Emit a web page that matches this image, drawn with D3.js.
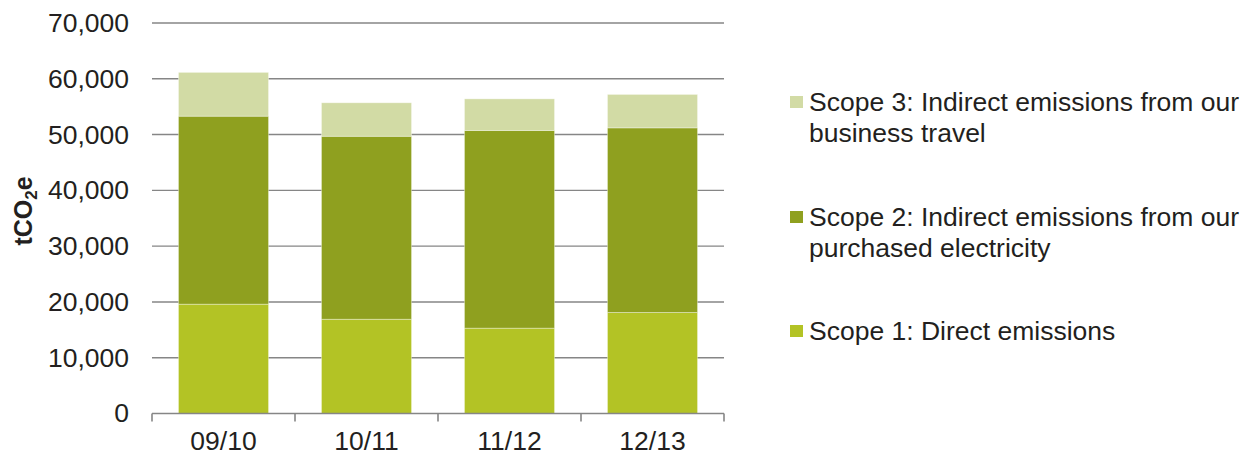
<!DOCTYPE html>
<html>
<head>
<meta charset="utf-8">
<script src="https://cdn.jsdelivr.net/npm/d3@7"></script>
<style>
  body { margin: 0; background: #fff; }
  text { font-family: "Liberation Sans", Arial, sans-serif; fill: #231f20; }
</style>
</head>
<body>
<svg id="canvas"></svg>
<script>
let years = ["09/10", "10/11", "11/12", "12/13"];
let scope1 = [19600, 16900, 15300, 18100];
let scope2 = [33700, 32800, 35450, 33100];
let scope3 = [7850, 6000, 5650, 6000];
let yTicks = [0, 10000, 20000, 30000, 40000, 50000, 60000, 70000];
let seriesKeys = ["scope1", "scope2", "scope3"];
let legendLines = {
  scope3: ["Scope 3: Indirect emissions from our", "business travel"],
  scope2: ["Scope 2: Indirect emissions from our", "purchased electricity"],
  scope1: ["Scope 1: Direct emissions"]
};
let colors = { scope1: "#b3c325", scope2: "#8fa01f", scope3: "#d2dba5" };

let width = 1245;
let height = 457;
let plotLeft = 152, plotRight = 724, plotTop = 23, plotBottom = 413.5;
let fontSize = 26.5;

let canvas = d3.select("#canvas").attr("width", width).attr("height", height);

let rows = years.map((y, i) => ({
  year: y, scope1: scope1[i], scope2: scope2[i], scope3: scope3[i]
}));

let xScale = d3.scaleBand().domain(years).range([plotLeft, plotRight])
  .paddingInner(0.37).paddingOuter(0.185);
let yScale = d3.scaleLinear().domain([0, 70000]).range([plotBottom, plotTop]);

// gridlines
canvas.append("g")
  .selectAll("line")
  .data(yTicks.filter(d => d > 0))
  .enter()
  .append("line")
  .attr("x1", plotLeft)
  .attr("x2", plotRight)
  .attr("y1", d => yScale(d))
  .attr("y2", d => yScale(d))
  .attr("stroke", "#868686")
  .attr("stroke-width", 1.4);

// stacked bars
let stacked = d3.stack().keys(seriesKeys)(rows);
canvas.append("g")
  .selectAll("g")
  .data(stacked)
  .enter()
  .append("g")
  .attr("fill", s => colors[s.key])
  .selectAll("rect")
  .data(s => s)
  .enter()
  .append("rect")
  .attr("x", d => xScale(d.data.year))
  .attr("width", xScale.bandwidth())
  .attr("y", d => yScale(d[1]))
  .attr("height", d => yScale(d[0]) - yScale(d[1]))
  .attr("stroke", "#ffffff")
  .attr("stroke-opacity", 0.45)
  .attr("stroke-width", 0.8);

// y axis labels
let yAxis = d3.axisLeft(yScale).tickValues(yTicks).tickSize(0).tickPadding(23)
  .tickFormat(d3.format(","));
let yg = canvas.append("g").attr("transform", "translate(" + plotLeft + ",0)").call(yAxis);
yg.select(".domain").remove();
yg.selectAll("text").attr("font-size", fontSize).attr("fill", "#231f20")
  .style("font-family", "'Liberation Sans', Arial, sans-serif");

// x axis with ticks at category boundaries
let xAxis = d3.axisBottom(xScale).tickSize(0).tickPadding(18);
let xg = canvas.append("g").attr("transform", "translate(0," + plotBottom + ")").call(xAxis);
xg.select(".domain").remove();
xg.selectAll("text").attr("font-size", fontSize).attr("fill", "#231f20")
  .style("font-family", "'Liberation Sans', Arial, sans-serif");

let step = xScale.step();
let bounds = years.map(y => xScale(y) - step * xScale.paddingInner() / 2);
bounds.push(plotRight);
canvas.append("line")
  .attr("x1", plotLeft).attr("x2", plotRight)
  .attr("y1", plotBottom).attr("y2", plotBottom)
  .attr("stroke", "#868686").attr("stroke-width", 1.6);
canvas.append("g")
  .selectAll("line")
  .data(bounds)
  .enter()
  .append("line")
  .attr("x1", d => d).attr("x2", d => d)
  .attr("y1", plotBottom).attr("y2", plotBottom + 8)
  .attr("stroke", "#868686").attr("stroke-width", 1.6);

// y axis title
let title = canvas.append("text")
  .attr("transform", "translate(32,211) rotate(-90)")
  .attr("text-anchor", "middle")
  .attr("font-size", 25)
  .attr("font-weight", "bold");
title.append("tspan").text("tCO");
title.append("tspan").attr("font-size", 17).attr("dy", 5).text("2");
title.append("tspan").attr("dy", -5).text("e");

// legend
let legendY = { scope3: 111, scope2: 226, scope1: 340 };
let legendOrder = ["scope3", "scope2", "scope1"];
let legend = canvas.append("g");
legendOrder.forEach(key => {
  let y0 = legendY[key];
  legend.append("rect")
    .attr("x", 790).attr("y", y0 - 15)
    .attr("width", 13).attr("height", 12)
    .attr("fill", colors[key]);
  let t = legend.append("text").attr("x", 809).attr("y", y0).attr("font-size", fontSize);
  legendLines[key].forEach((line, i) => {
    t.append("tspan").attr("x", 809).attr("dy", i === 0 ? 0 : 31).text(line);
  });
});
</script>
</body>
</html>
